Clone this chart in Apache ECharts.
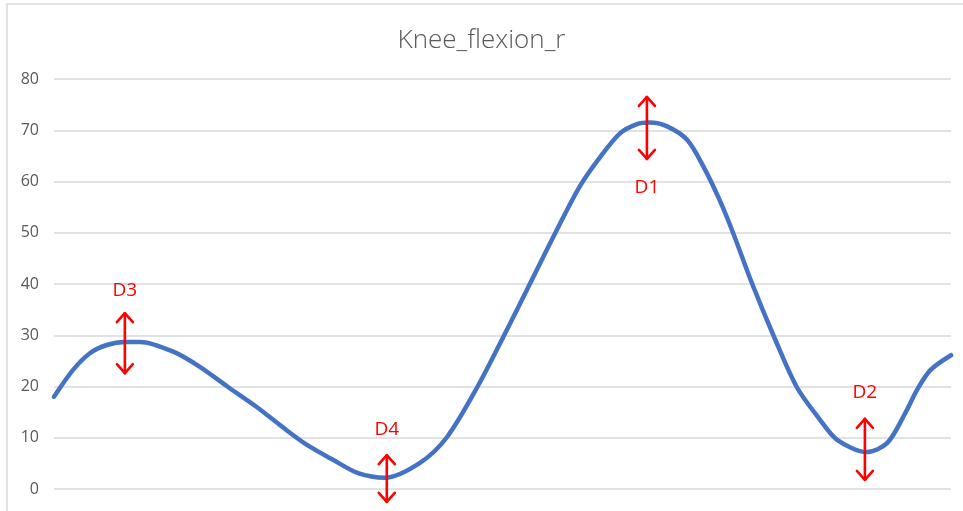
<!DOCTYPE html>
<html>
<head>
<meta charset="utf-8">
<title>Knee_flexion_r</title>
<script src="https://cdn.jsdelivr.net/npm/echarts@6/dist/echarts.min.js"></script>
<style>
  html, body { margin: 0; padding: 0; background: #ffffff; }
  #chart { width: 963px; height: 511px; }
</style>
</head>
<body>
<div id="chart"></div>
<script>
// Gait cycle position (%) and right knee flexion angle (deg)
const cyclePct = [0, 2.1, 4.0, 5.9, 7.9, 9.6, 13.3, 16.3, 19.4, 22.6, 25.9, 28.2, 31.1, 33.9, 36.9,
  40.8, 43.8, 47.2, 50.1, 53.1, 55.9, 58.6, 60.9, 63.1, 65.0, 66.4, 68.3, 70.6, 72.4, 74.2,
  75.7, 77.8, 80.2, 82.8, 85.4, 87.3, 90.6, 92.9, 94.9, 96.2, 97.7, 100];
const kneeFlexion = [18.0, 23.2, 26.5, 28.1, 28.7, 28.7, 26.8, 23.8, 19.9, 16.0, 11.5, 8.6, 5.7, 3.1, 2.2,
  5.1, 10.1, 19.9, 29.7, 40.2, 50.0, 59.0, 64.8, 69.4, 71.2, 71.5, 70.8, 68.1, 62.9, 56.4,
  50.0, 40.2, 30.0, 19.9, 13.5, 9.6, 7.2, 9.0, 14.8, 19.3, 23.2, 26.1];

// Range markers: name, position, arrow top, arrow bottom, label height
const markerNames = ['D3', 'D4', 'D1', 'D2'];
const markerPct = [7.9, 37.1, 66.1, 90.4];
const markerTop = [34.3, 6.6, 76.5, 13.7];
const markerBottom = [22.6, -2.5, 64.4, 1.8];
const markerLabelY = [38.8, 11.5, 58.9, 18.9];

const yTicks = { min: 0, max: 80, step: 10 };

const markerData = markerNames.map((n, i) => [markerPct[i], markerTop[i], markerBottom[i], markerLabelY[i], n]);

const chart = echarts.init(document.getElementById('chart'), null, { renderer: 'canvas' });

const RED = '#ff0000';

function renderMarker(params, api) {
  const x = api.value(0);
  const top = api.coord([x, api.value(1)]);
  const bot = api.coord([x, api.value(2)]);
  const lab = api.coord([x, api.value(3)]);
  const hw = 8, hh = 9;
  const stroke = { stroke: RED, lineWidth: 2.6, fill: null, lineCap: 'round', lineJoin: 'round' };
  return {
    type: 'group',
    children: [
      { type: 'line', shape: { x1: top[0], y1: top[1], x2: bot[0], y2: bot[1] }, style: stroke },
      { type: 'polyline', shape: { points: [[top[0] - hw, top[1] + hh], [top[0], top[1]], [top[0] + hw, top[1] + hh]] }, style: stroke },
      { type: 'polyline', shape: { points: [[bot[0] - hw, bot[1] - hh], [bot[0], bot[1]], [bot[0] + hw, bot[1] - hh]] }, style: stroke },
      { type: 'text', x: lab[0], y: lab[1],
        style: { text: api.value(4), fill: RED, font: '19px "Open Sans", "Noto Sans", sans-serif',
                 align: 'center', verticalAlign: 'middle' } }
    ]
  };
}

chart.setOption({
  animation: false,
  backgroundColor: '#ffffff',
  title: {
    text: 'Knee_flexion_r',
    left: 'center',
    top: 23,
    textStyle: { color: '#595959', fontSize: 26, fontWeight: 300, fontFamily: '"Open Sans", "Noto Sans", sans-serif' }
  },
  graphic: [{
    type: 'rect',
    shape: { x: 7, y: 4, width: 1200, height: 1000 },
    style: { fill: null, stroke: '#d9d9d9', lineWidth: 1.5 },
    silent: true,
    z: -1
  }],
  grid: { left: 54, right: 12, top: 79, bottom: 22 },
  xAxis: {
    type: 'value',
    min: 0,
    max: 100,
    show: false
  },
  yAxis: {
    type: 'value',
    min: yTicks.min,
    max: yTicks.max,
    interval: yTicks.step,
    axisLine: { show: false },
    axisTick: { show: false },
    axisLabel: { color: '#595959', fontSize: 16, margin: 15, fontFamily: '"Open Sans", "Noto Sans", sans-serif' },
    splitLine: { lineStyle: { color: '#d9d9d9', width: 1.5 } }
  },
  series: [
    {
      type: 'line',
      data: cyclePct.map((x, i) => [x, kneeFlexion[i]]),
      smooth: 0.3,
      showSymbol: false,
      lineStyle: { color: '#4472c4', width: 4.5, cap: 'round' },
      clip: false,
      z: 2
    },
    {
      type: 'custom',
      data: markerData,
      renderItem: renderMarker,
      clip: false,
      silent: true,
      z: 3
    }
  ]
});
</script>
</body>
</html>
